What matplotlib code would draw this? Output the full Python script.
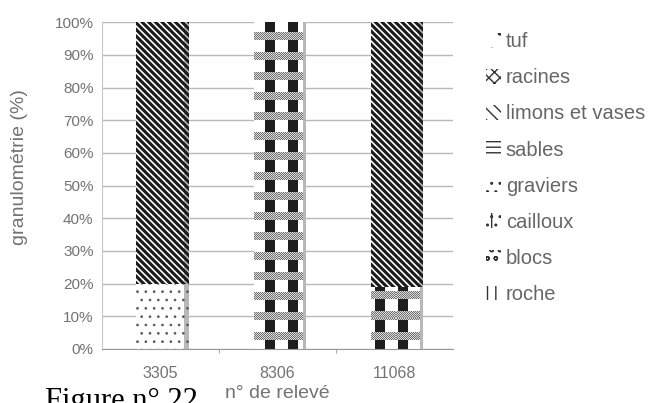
import matplotlib
matplotlib.use("Agg")
import matplotlib.pyplot as plt
import matplotlib.patheffects as pe
from matplotlib.patches import Patch
import numpy as np

plt.rcParams['font.family'] = ['Liberation Sans', 'DejaVu Sans']

# données : pourcentages par relevé
releves = ["3305", "8306", "11068"]
graviers = [20, 0, 0]
racines = [0, 100, 19]
limons = [80, 0, 81]

legend_labels = ["tuf", "racines", "limons et vases", "sables", "graviers", "cailloux", "blocs", "roche"]
legend_hatches = [".", "xxx", "\\\\\\", "---", "..", "|..", "oo", "||"]

W_PX, H_PX = 653, 403


def hatch_lw(bars, lw):
    for b in bars:
        if hasattr(b, "set_hatch_linewidth"):
            b.set_hatch_linewidth(lw)


def racines_texture(h, w):
    # motif : bandes grises tramées + carrés noirs (coordonnées pixels de la figure)
    yy, xx = np.mgrid[0:h, 0:w]
    tex = np.ones((h, w))
    cols = ((xx - 1) % 22) < 10
    tex[cols] = 0.12
    band = ((yy - 12) % 20) < 8
    checker = np.where((xx + yy) % 2 == 0, 0.45, 0.85)
    tex[band] = checker[band]
    return tex


fig = plt.figure(figsize=(W_PX / 100, H_PX / 100), dpi=100)
ax = fig.add_axes([0.156, 0.134, 0.538, 0.811])
ax.set_xlim(-0.5, 2.5)
ax.set_ylim(0, 100)

x = np.arange(len(releves))
w = 0.41
shadow = [pe.SimplePatchShadow(offset=(3, 0), shadow_rgbFace="0.72", alpha=1), pe.Normal()]

bottom = np.zeros(len(releves))
with plt.rc_context({"hatch.linewidth": 0.7}):
    b = ax.bar(x, graviers, w, bottom=bottom, color="white", edgecolor="0.35", hatch="..",
               linewidth=0, path_effects=shadow)
hatch_lw(b, 0.7)
bottom += graviers

b = ax.bar(x, racines, w, bottom=bottom, color="white", linewidth=0, path_effects=shadow)
big = racines_texture(H_PX, W_PX)
for patch in b:
    if patch.get_height() <= 0:
        continue
    x0d, y0d = patch.get_x(), patch.get_y()
    x1d, y1d = x0d + patch.get_width(), y0d + patch.get_height()
    (px0, py0), (px1, py1) = ax.transData.transform([[x0d, y0d], [x1d, y1d]])
    c0, c1 = int(round(px0)), int(round(px1))
    r0, r1 = H_PX - int(round(py1)), H_PX - int(round(py0))
    im = ax.imshow(big[r0:r1, c0:c1], cmap="gray", vmin=0, vmax=1,
                   extent=(x0d, x1d, y0d, y1d), aspect="auto",
                   interpolation="nearest", zorder=1.5)
    im.set_clip_path(patch)
bottom += racines

with plt.rc_context({"hatch.linewidth": 2.2}):
    b = ax.bar(x, limons, w, bottom=bottom, color="white", edgecolor="0.1", hatch="\\\\\\\\\\",
               linewidth=0, path_effects=shadow)
hatch_lw(b, 2.2)

ax.set_xlim(-0.5, 2.5)
ax.set_ylim(0, 100)
ax.set_yticks(np.arange(0, 101, 10))
ax.set_yticklabels([f"{v}%" for v in range(0, 101, 10)])
ax.set_xticks(x)
ax.set_xticklabels(releves)
ax.set_xticks([0.5, 1.5], minor=True)
ax.yaxis.grid(True, color="0.72", linewidth=1)
ax.set_axisbelow(True)
for s in ["top", "right"]:
    ax.spines[s].set_visible(False)
ax.spines["left"].set_color("0.78")
ax.spines["bottom"].set_color("0.6")
ax.tick_params(axis="y", length=0, labelsize=11, labelcolor="0.45", pad=6)
ax.tick_params(axis="x", which="major", length=0, labelsize=11.5, labelcolor="0.45", pad=12)
ax.tick_params(axis="x", which="minor", length=3, color="0.6")
ax.set_ylabel("granulométrie (%)", fontsize=14, color="0.45")
ax.yaxis.set_label_coords(-0.21, 0.557)
ax.set_xlabel("n° de relevé", fontsize=14, color="0.45", labelpad=3)

handles = [Patch(facecolor="white", edgecolor="0.2", hatch=h, linewidth=0) for h in legend_hatches]
fig.legend(handles, legend_labels, loc="upper left", bbox_to_anchor=(0.716, 0.965),
           frameon=False, fontsize=14.5, labelcolor="0.4", handlelength=0.75,
           handleheight=0.75, handletextpad=0.25, labelspacing=0.85)

fig.text(0.069, -0.014, "Figure n° 22", fontsize=22, family="Liberation Serif",
         color="black", va="baseline")

fig.savefig("out.png", dpi=100)
